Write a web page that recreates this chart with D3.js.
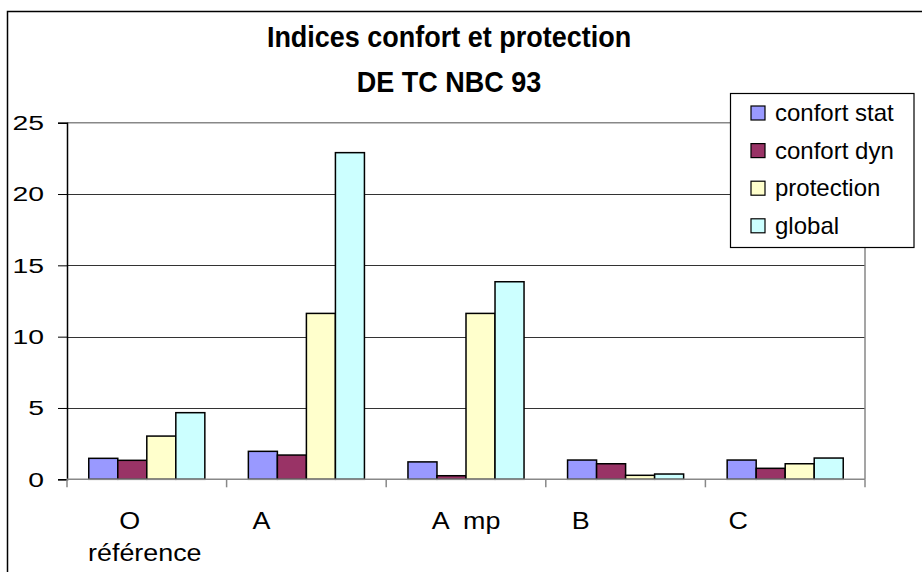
<!DOCTYPE html>
<html>
<head>
<meta charset="utf-8">
<script src="https://cdn.jsdelivr.net/npm/d3@7"></script>
<style>
  body { margin: 0; background: #fff; }
  text { font-family: "Liberation Sans", Arial, sans-serif; fill: #000; }
</style>
</head>
<body>
<svg id="chart"></svg>
<script>
// data
var categories = ["O référence", "A", "A  mp", "B", "C"];
var series = ["confort stat", "confort dyn", "protection", "global"];
var confortStat = [1.47, 1.96, 1.22, 1.35, 1.35];
var confortDyn = [1.33, 1.70, 0.25, 1.09, 0.77];
var protection = [3.03, 11.63, 11.63, 0.28, 1.09];
var global = [4.67, 22.9, 13.85, 0.37, 1.49];
var yTicks = [0, 5, 10, 15, 20, 25];
var colors = ["#9999ff", "#993366", "#ffffcc", "#ccffff"];

var values = [confortStat, confortDyn, protection, global];
var rows = categories.map(function (c, i) {
    return { cat: c, vals: series.map(function (s, j) { return { key: s, v: values[j][i] }; }) };
});

var settings = { width: 922, height: 572 };
var svg = d3.select("#chart")
    .attr("width", settings.width)
    .attr("height", settings.height);

/* outer chart frame (right and bottom sides fall outside the picture) */
svg.append("rect")
    .attr("x", 7.5).attr("y", 11.5)
    .attr("width", 940).attr("height", 600)
    .attr("fill", "none").attr("stroke", "#000").attr("stroke-width", 1.5);

var plot = { left: 67, right: 865, top: 122.7, bottom: 479.3 };

var x0 = d3.scaleBand().domain(categories).range([plot.left, plot.right]);
var x1 = d3.scaleBand().domain(series).range([0, x0.bandwidth()])
    .paddingInner(0).paddingOuter(0.75);
var y = d3.scaleLinear().domain([0, 25]).range([plot.bottom, plot.top]);

// gridlines
svg.append("g")
    .selectAll("line")
    .data(yTicks.filter(function (t) { return t > 0 && t < 25; }))
    .enter().append("line")
    .attr("x1", plot.left).attr("x2", plot.right)
    .attr("y1", function (d) { return Math.round(y(d)) + 0.5; })
    .attr("y2", function (d) { return Math.round(y(d)) + 0.5; })
    .attr("stroke", "#333").attr("stroke-width", 1);

// plot area border (grey) top and right
svg.append("path")
    .attr("d", "M" + plot.left + "," + (y(25)) + "H" + plot.right + "V" + plot.bottom)
    .attr("fill", "none").attr("stroke", "#888").attr("stroke-width", 1.5);

// bars
var groups = svg.append("g")
    .selectAll("g")
    .data(rows)
    .enter().append("g")
    .attr("transform", function (d) { return "translate(" + x0(d.cat) + ",0)"; });

groups.selectAll("rect")
    .data(function (d) { return d.vals; })
    .enter().append("rect")
    .attr("x", function (d) { return x1(d.key); })
    .attr("y", function (d) { return y(d.v); })
    .attr("width", x1.bandwidth())
    .attr("height", function (d) { return y(0) - y(d.v); })
    .attr("fill", function (d, i) { return colors[i]; })
    .attr("stroke", "#000").attr("stroke-width", 1.5);

// y axis
var yAxis = svg.append("g")
    .attr("transform", "translate(" + plot.left + ",0)")
    .call(d3.axisLeft(y).tickValues(yTicks).tickSize(9).tickPadding(14).tickFormat(d3.format("d")));
yAxis.select(".domain").attr("stroke", "#000").attr("stroke-width", 1.5);
yAxis.selectAll(".tick line").attr("stroke", "#000");
// the original digits are drawn wide
yAxis.selectAll("text")
    .style("font-size", "21px").attr("fill", "#000")
    .attr("x", 0)
    .attr("transform", "translate(-23,0) scale(1.35,1)");

// x axis: ticks on category boundaries
var xAxis = svg.append("g")
    .attr("transform", "translate(0," + plot.bottom + ")");
xAxis.append("line")
    .attr("x1", plot.left).attr("x2", plot.right)
    .attr("stroke", "#888").attr("stroke-width", 1.5);
xAxis.selectAll("line.tk")
    .data(categories.concat([null]))
    .enter().append("line")
    .attr("class", "tk")
    .attr("x1", function (d) { return d === null ? plot.right : x0(d); })
    .attr("x2", function (d) { return d === null ? plot.right : x0(d); })
    .attr("y1", 0).attr("y2", 8)
    .attr("stroke", "#888").attr("stroke-width", 1.5);

// category labels (Excel puts the first word off-centre)
var labelShift = [-17, -45, 0, -45, -47];
categories.forEach(function (c, i) {
    var parts = c.indexOf(" référence") >= 0 ? ["O", "référence"] : [c];
    var cx = x0(c) + x0.bandwidth() / 2;
    xAxis.append("text")
        .attr("transform", "translate(" + (cx + labelShift[i]) + ",50) scale(1.12,1)")
        .attr("text-anchor", "middle")
        .style("font-size", "24px")
        .style("white-space", "pre")
        .text(parts[0]);
    if (parts[1]) {
        xAxis.append("text")
            .attr("transform", "translate(" + (cx - 2) + ",82) scale(1.12,1)")
            .attr("text-anchor", "middle")
            .style("font-size", "24px")
            .text(parts[1]);
    }
});

// title (slightly condensed like the original)
var title = svg.append("g");
title.append("text")
    .attr("transform", "translate(449,46.5) scale(0.9,1)")
    .attr("text-anchor", "middle").style("font-size", "30px").style("font-weight", "bold")
    .text("Indices confort et protection");
title.append("text")
    .attr("transform", "translate(449,91.5) scale(0.9,1)")
    .attr("text-anchor", "middle").style("font-size", "30px").style("font-weight", "bold")
    .text("DE TC NBC 93");

// legend
var legend = svg.append("g");
legend.append("rect")
    .attr("x", 730.5).attr("y", 93.5).attr("width", 183.5).attr("height", 154)
    .attr("fill", "#fff").attr("stroke", "#000").attr("stroke-width", 1.2);
var items = legend.selectAll("g.item")
    .data(series)
    .enter().append("g")
    .attr("class", "item")
    .attr("transform", function (d, i) { return "translate(751," + (113 + i * 37.6) + ")"; });
items.append("rect")
    .attr("x", 0).attr("y", -7).attr("width", 14).attr("height", 14)
    .attr("fill", function (d, i) { return colors[i]; })
    .attr("stroke", "#000").attr("stroke-width", 1.2);
items.append("text")
    .attr("x", 24).attr("y", 8)
    .style("font-size", "24px")
    .text(function (d) { return d; });
</script>
</body>
</html>
